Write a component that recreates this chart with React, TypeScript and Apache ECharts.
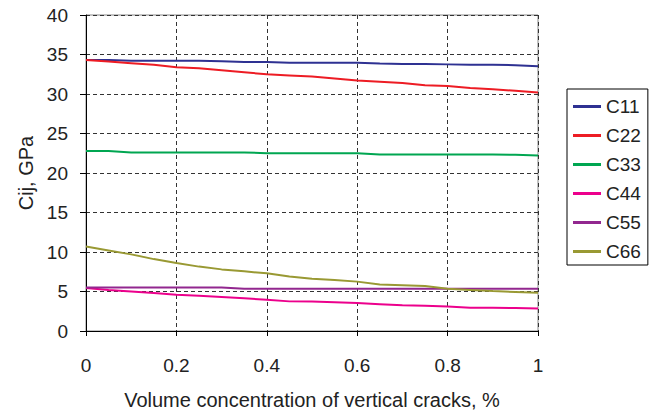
import React, { useEffect, useRef } from "react";
import * as echarts from "echarts";

const xs = [0, 0.05, 0.1, 0.15, 0.2, 0.25, 0.3, 0.35, 0.4, 0.45, 0.5, 0.55, 0.6, 0.65, 0.7, 0.75, 0.8, 0.85, 0.9, 0.95, 1.0];

const c11 = [34.3, 34.3, 34.2, 34.2, 34.2, 34.2, 34.15, 34.05, 34.05, 33.95, 33.95, 33.95, 33.95, 33.85, 33.8, 33.8, 33.75, 33.7, 33.7, 33.65, 33.5];
const c22 = [34.3, 34.1, 33.9, 33.7, 33.4, 33.25, 33.0, 32.75, 32.5, 32.35, 32.2, 31.95, 31.7, 31.55, 31.4, 31.1, 31.0, 30.75, 30.6, 30.4, 30.2];
const c33 = [22.8, 22.8, 22.6, 22.6, 22.6, 22.6, 22.6, 22.6, 22.5, 22.5, 22.5, 22.5, 22.5, 22.35, 22.35, 22.35, 22.35, 22.35, 22.35, 22.3, 22.2];
const c44 = [5.45, 5.2, 5.0, 4.8, 4.6, 4.45, 4.3, 4.15, 3.95, 3.75, 3.72, 3.65, 3.55, 3.4, 3.25, 3.2, 3.1, 2.95, 2.95, 2.9, 2.85];
const c55 = [5.5, 5.5, 5.5, 5.5, 5.5, 5.5, 5.5, 5.35, 5.35, 5.35, 5.35, 5.35, 5.35, 5.35, 5.35, 5.35, 5.35, 5.35, 5.35, 5.35, 5.35];
const c66 = [10.7, 10.2, 9.7, 9.1, 8.6, 8.15, 7.8, 7.55, 7.3, 6.9, 6.6, 6.45, 6.25, 5.9, 5.8, 5.7, 5.35, 5.2, 5.05, 4.95, 4.85];

const seriesNames = ["C11", "C22", "C33", "C44", "C55", "C66"];
const seriesValues = [c11, c22, c33, c44, c55, c66];
const seriesColors = ["#2e3192", "#ed1c24", "#00a651", "#ec008c", "#92278f", "#999933"];

const xTitle = "Volume concentration of vertical cracks, %";
const yTitle = "Cij, GPa";

export default function App() {
  const ref = useRef<HTMLDivElement>(null);
  useEffect(() => {
    document.body.style.margin = "0";
    if (!ref.current) return;
    const chart = echarts.init(ref.current, undefined, { renderer: "svg" });
    const font = "'Liberation Sans', Arial, sans-serif";
    chart.setOption({
      animation: false,
      textStyle: { fontFamily: font },
      grid: {
        left: 86,
        right: 119,
        top: 15,
        bottom: 75,
        show: true,
        borderColor: "#888",
        borderWidth: 1,
        backgroundColor: "transparent",
      },
      legend: {
        orient: "vertical",
        left: 567,
        top: 89,
        padding: [8, 7, 4, 6],
        borderColor: "#000",
        borderWidth: 1,
        icon: "rect",
        itemWidth: 28,
        itemHeight: 3,
        itemGap: 10,
        textStyle: { fontFamily: font, fontSize: 19, color: "#222", lineHeight: 19 },
        data: seriesNames,
      },
      xAxis: {
        type: "value",
        min: 0,
        max: 1,
        interval: 0.2,
        name: xTitle,
        nameLocation: "middle",
        nameGap: 59,
        nameTextStyle: { fontFamily: font, fontSize: 20, color: "#222" },
        axisLine: { show: true, onZero: false, lineStyle: { color: "#000", width: 1 } },
        axisTick: { show: true, inside: false, length: 5, lineStyle: { color: "#000" } },
        axisLabel: { fontSize: 19, color: "#222", margin: 25, fontFamily: font },
        splitLine: { show: true, lineStyle: { color: "#333", type: [4, 3], width: 1 } },
      },
      yAxis: {
        type: "value",
        min: 0,
        max: 40,
        interval: 5,
        name: yTitle,
        nameLocation: "middle",
        nameGap: 50,
        nameTextStyle: { fontFamily: font, fontSize: 20, color: "#222" },
        axisLine: { show: true, onZero: false, lineStyle: { color: "#000", width: 1 } },
        axisTick: { show: true, inside: false, length: 6, lineStyle: { color: "#000" } },
        axisLabel: { fontSize: 19, color: "#222", margin: 18, fontFamily: font },
        splitLine: { show: true, lineStyle: { color: "#333", type: [4, 3], width: 1 } },
      },
      series: seriesNames.map((name, i) => ({
        name,
        type: "line",
        showSymbol: false,
        symbol: "none",
        color: seriesColors[i],
        lineStyle: { width: 2, color: seriesColors[i] },
        data: xs.map((x, j) => [x, seriesValues[i][j]]),
      })),
    });
    return () => chart.dispose();
  }, []);
  return <div ref={ref} style={{ width: 657, height: 415 }} />;
}
